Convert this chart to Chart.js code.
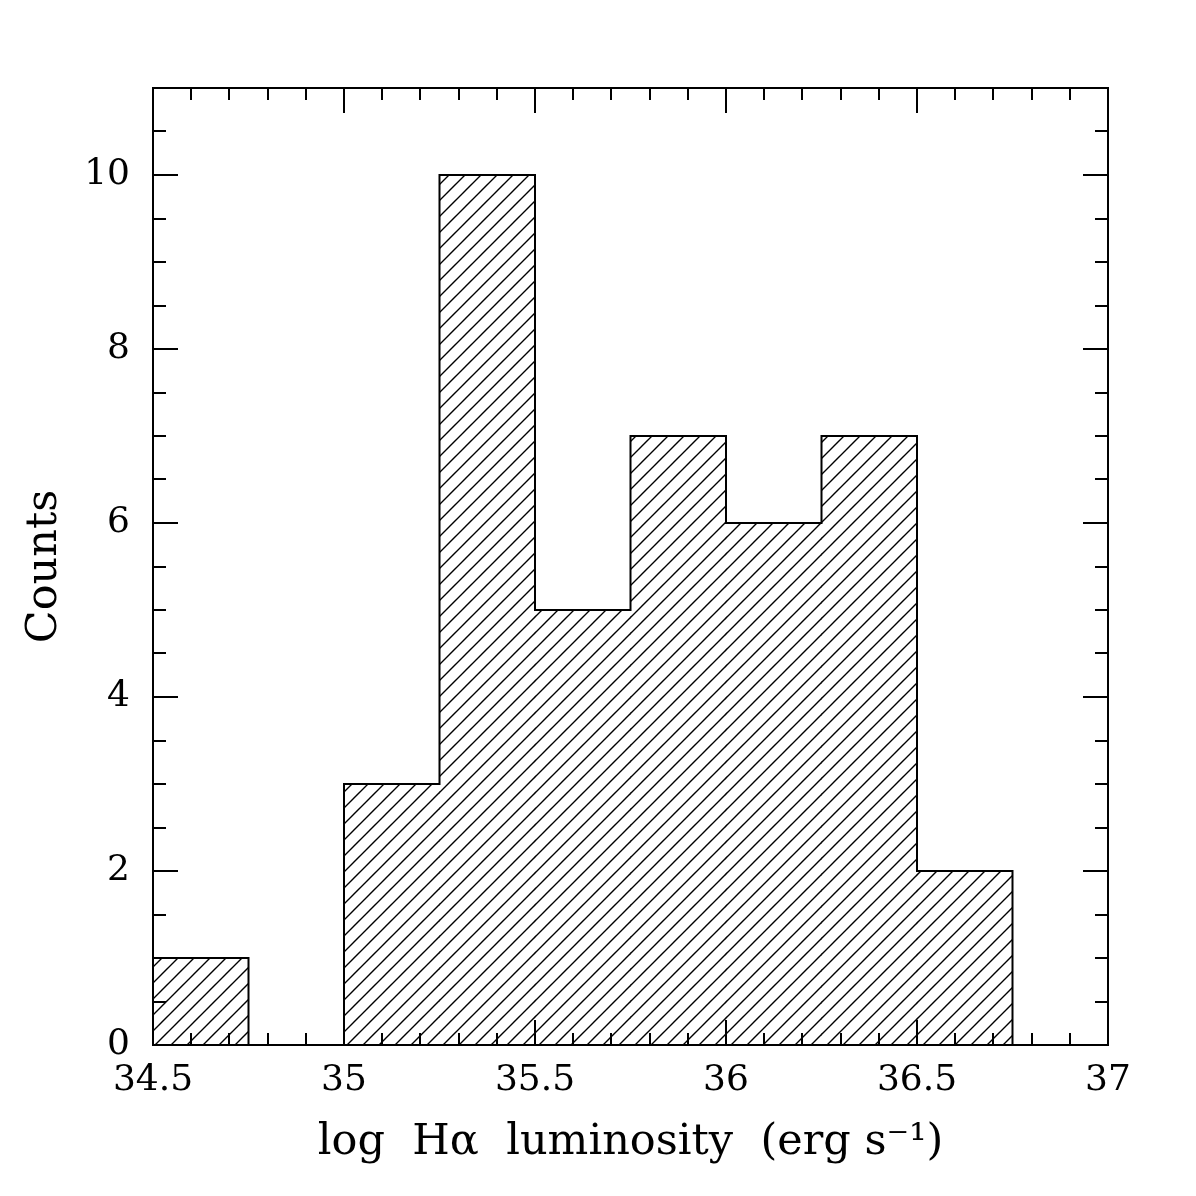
<!DOCTYPE html>
<html>
<head>
<meta charset="utf-8">
<script src="https://cdn.jsdelivr.net/npm/chart.js@4.4.1/dist/chart.umd.min.js"></script>
<style>
  html, body { margin: 0; padding: 0; background: #fff; }
  canvas { display: block; }
</style>
</head>
<body>
<canvas id="hist" width="1196" height="1196"></canvas>
<script>
// histogram bins (left edges) and counts
const binStarts = [34.5, 34.75, 35, 35.25, 35.5, 35.75, 36, 36.25, 36.5, 36.75];
const binWidth = 0.25;
const counts = [1, 0, 3, 10, 5, 7, 6, 7, 2, 0];
const xTickValues = [34.5, 35, 35.5, 36, 36.5, 37];
const yTickValues = [0, 2, 4, 6, 8, 10];
const xRange = [34.5, 37];
const yRange = [0, 11];

const serif = '"DejaVu Serif", "Liberation Serif", serif';

// diagonal hatch fill
function makeHatch() {
    const size = 16;
    const c = document.createElement('canvas');
    c.width = size;
    c.height = size;
    const g = c.getContext('2d');
    g.strokeStyle = '#000';
    g.lineWidth = 1.4;
    g.beginPath();
    g.moveTo(0, size); g.lineTo(size, 0);
    g.moveTo(-4, 4); g.lineTo(4, -4);
    g.moveTo(size - 4, size + 4); g.lineTo(size + 4, size - 4);
    g.stroke();
    return g.createPattern(c, 'repeat');
}

// step outline: start at baseline, then one point per bin edge
const outline = [{ x: binStarts[0], y: 0 }]
    .concat(binStarts.map((s, i) => ({ x: s, y: counts[i] })))
    .concat([{ x: binStarts[binStarts.length - 1] + binWidth, y: 0 }]);

// frame and inward ticks on all four sides
const framePlugin = {
    id: 'frame',
    afterDraw(chart) {
        const { ctx, chartArea: a, scales: { x, y } } = chart;
        ctx.save();
        ctx.strokeStyle = '#000';
        ctx.lineWidth = 2;
        ctx.strokeRect(a.left, a.top, a.right - a.left, a.bottom - a.top);

        ctx.beginPath();
        for (let i = 0; i <= 25; i++) {
            const v = xRange[0] + i * 0.1;
            const px = Math.round(x.getPixelForValue(v));
            const len = i % 5 === 0 ? 25 : 12;
            ctx.moveTo(px, a.bottom); ctx.lineTo(px, a.bottom - len);
            ctx.moveTo(px, a.top); ctx.lineTo(px, a.top + len);
        }
        for (let i = 0; i <= 22; i++) {
            const v = i * 0.5;
            const py = Math.round(y.getPixelForValue(v));
            const len = i % 4 === 0 ? 25 : 13;
            ctx.moveTo(a.left, py); ctx.lineTo(a.left + len, py);
            ctx.moveTo(a.right, py); ctx.lineTo(a.right - len, py);
        }
        ctx.stroke();
        ctx.restore();
    }
};

const ctx = document.getElementById('hist').getContext('2d');

new Chart(ctx, {
    type: 'bar',
    data: {
        datasets: [{
            type: 'line',
            data: outline,
            stepped: 'before',
            borderColor: '#000',
            borderWidth: 2,
            pointRadius: 0,
            fill: false,
            clip: false,
            order: 0
        }, {
            data: binStarts.map((s, i) => ({ x: s + binWidth / 2, y: counts[i] })),
            backgroundColor: makeHatch(),
            borderWidth: 0,
            barPercentage: 1,
            categoryPercentage: 1,
            grouped: false,
            order: 1
        }]
    },
    options: {
        responsive: false,
        animation: false,
        events: [],
        layout: { padding: { left: 0, top: 88, right: 88, bottom: 0 } },
        plugins: { legend: { display: false }, tooltip: { enabled: false } },
        scales: {
            x: {
                type: 'linear',
                offset: false,
                min: xRange[0],
                max: xRange[1],
                grid: { display: false, drawTicks: false, offset: false },
                border: { display: false },
                afterBuildTicks: s => { s.ticks = xTickValues.map(v => ({ value: v })); },
                afterFit: s => { s.height = 151; },
                ticks: {
                    color: '#000',
                    padding: 14,
                    maxRotation: 0,
                    autoSkip: false,
                    font: { family: serif, size: 36 },
                    callback: v => String(v)
                },
                title: {
                    display: true,
                    text: 'log  H\u03b1  luminosity  (erg s\u207b\u00b9)',
                    color: '#000',
                    font: { family: serif, size: 43 },
                    padding: { top: 0, bottom: 27 }
                }
            },
            y: {
                min: yRange[0],
                max: yRange[1],
                grid: { display: false, drawTicks: false },
                border: { display: false },
                afterBuildTicks: s => { s.ticks = yTickValues.map(v => ({ value: v })); },
                afterFit: s => { s.width = 153; },
                ticks: {
                    color: '#000',
                    padding: 23,
                    autoSkip: false,
                    font: { family: serif, size: 36 }
                },
                title: {
                    display: true,
                    text: 'Counts',
                    color: '#000',
                    font: { family: serif, size: 43 },
                    padding: { top: 19, bottom: 0 }
                }
            }
        }
    },
    plugins: [framePlugin]
});
</script>
</body>
</html>
